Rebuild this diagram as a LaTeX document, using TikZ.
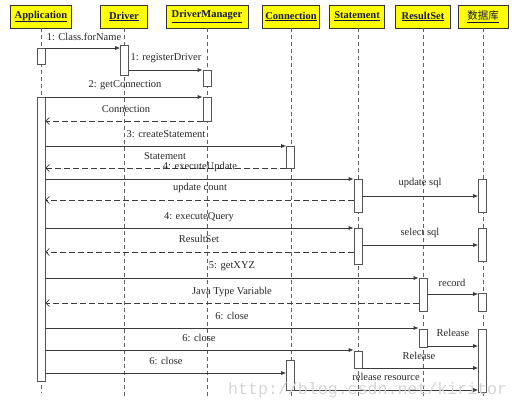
\documentclass[tikz,border=0pt]{standalone}
\usepackage{fontspec}
\setmainfont{Liberation Serif}
\newfontfamily\cjk{Noto Sans CJK SC}
\newfontfamily\wmfont{Liberation Mono}
\usetikzlibrary{arrows.meta}
\definecolor{hdrfill}{HTML}{FFFF00}
\definecolor{hdrtext}{HTML}{14144A}
\definecolor{linec}{HTML}{3A3A3A}
\definecolor{barc}{HTML}{555555}
\definecolor{lifec}{HTML}{606060}
\definecolor{wmc}{HTML}{D4D4D4}
\tikzset{
  hdr/.style={draw=black!80, fill=hdrfill, line width=0.6pt, minimum height=23pt, inner sep=0pt,
    font=\fontsize{10.5}{12}\selectfont\bfseries, text=hdrtext},
  life/.style={draw=lifec, line width=0.6pt, dash pattern=on 4pt off 3pt},
  actbar/.style={draw=barc, fill=white, line width=0.6pt, minimum width=8pt, inner sep=0pt},
  msg/.style={draw=linec, line width=0.7pt, -{Latex[length=5pt,width=4pt]}},
  ret/.style={draw=linec, line width=0.7pt, dash pattern=on 6pt off 3pt, -{Straight Barb[length=3.5pt,width=7pt]}},
  lbl/.style={font=\fontsize{10.5}{12}\selectfont, text=black!85, inner sep=0pt}
}
\begin{document}
\begin{tikzpicture}[x=1pt,y=-1pt]
\useasboundingbox (0,0) rectangle (521,410);
% headers
\node[hdr, minimum width=61pt] (happ) at (41,16.5) {\underline{Application}};
\node[hdr, minimum width=47pt] (hdrv) at (124,16.5) {\underline{Driver}};
\node[hdr, minimum width=82pt] (hdm) at (207,16.5) {\underline{DriverManager}};
\node[hdr, minimum width=57pt] (hcon) at (291,16.5) {\underline{Connection}};
\node[hdr, minimum width=55pt] (hst) at (357,16.5) {\underline{Statement}};
\node[hdr, minimum width=55pt] (hrs) at (423,16.5) {\underline{ResultSet}};
\node[hdr, minimum width=50pt, font=\fontsize{10.5}{12}\selectfont\cjk] (hdb) at (483,16.5) {\underline{数据库}};
% lifelines
\coordinate (eapp) at (41,393);
\coordinate (edrv) at (124,396);
\coordinate (edm) at (207,396);
\coordinate (econ) at (291,396);
\coordinate (est) at (358,396);
\coordinate (ers) at (423,396);
\coordinate (edb) at (483,396);
\draw[life] (happ.south) -- (eapp);
\draw[life] (hdrv.south) -- (edrv);
\draw[life] (hdm.south) -- (edm);
\draw[life] (hcon.south) -- (econ);
\draw[life] (hst.south -| est) -- (est);
\draw[life] (hrs.south) -- (ers);
\draw[life] (hdb.south) -- (edb);
% activation bars
\node[actbar, minimum height=16pt] (a1) at (41,56) {};
\node[actbar, minimum height=284pt] (a2) at (41,239) {};
\node[actbar, minimum height=30pt] (d1) at (124.5,60) {};
\node[actbar, minimum height=16pt] (m1) at (207,78) {};
\node[actbar, minimum height=24pt] (m2) at (207,109) {};
\node[actbar, minimum height=22pt] (c1) at (290.5,157) {};
\node[actbar, minimum height=30pt] (c2) at (290.5,375) {};
\node[actbar, minimum height=33pt] (s1) at (358,195.5) {};
\node[actbar, minimum height=36pt] (s2) at (358,246) {};
\node[actbar, minimum height=17pt] (s3) at (358,359.5) {};
\node[actbar, minimum height=33pt] (r1) at (423,294.5) {};
\node[actbar, minimum height=18pt] (r2) at (423,338) {};
\node[actbar, minimum height=33pt] (b1) at (482.5,195.5) {};
\node[actbar, minimum height=33pt] (b2) at (482.5,244.5) {};
\node[actbar, minimum height=18pt] (b3) at (482.5,302) {};
\node[actbar, minimum height=63pt] (b4) at (482.5,360.5) {};
% messages
\draw[msg] (a1.east |- 0,48) -- (d1.west |- 0,48);
\draw[msg] (d1.east |- 0,70) -- (m1.west |- 0,70);
\draw[msg] (a2.east |- 0,97) -- (m2.west |- 0,97);
\draw[ret] (m2.west |- 0,121) -- (a2.east |- 0,121);
\draw[msg] (a2.east |- 0,146) -- (c1.west |- 0,146);
\draw[ret] (c1.west |- 0,168) -- (a2.east |- 0,168);
\draw[msg] (a2.east |- 0,179) -- (s1.west |- 0,179);
\draw[ret] (s1.west |- 0,200) -- (a2.east |- 0,200);
\draw[msg] (s1.east |- 0,196) -- (b1.west |- 0,196);
\draw[msg] (a2.east |- 0,228) -- (s2.west |- 0,228);
\draw[ret] (s2.west |- 0,252) -- (a2.east |- 0,252);
\draw[msg] (s2.east |- 0,245) -- (b2.west |- 0,245);
\draw[msg] (a2.east |- 0,278) -- (r1.west |- 0,278);
\draw[ret] (r1.west |- 0,303) -- (a2.east |- 0,303);
\draw[msg] (r1.east |- 0,294) -- (b3.west |- 0,294);
\draw[msg] (a2.east |- 0,328) -- (r2.west |- 0,328);
\draw[msg] (r2.east |- 0,346) -- (b4.west |- 0,346);
\draw[msg] (a2.east |- 0,350) -- (s3.west |- 0,350);
\draw[msg] (s3.east |- 0,368) -- (b4.west |- 0,368);
\draw[msg] (a2.east |- 0,373) -- (c2.west |- 0,373);
\draw[msg] (c2.east |- 0,390) -- (b4.west |- 0,390);
% labels
\node[lbl] (l1) at (84,37) {1: Class.forName};
\node[lbl] (l2) at (166,58) {1: registerDriver};
\node[lbl] (l3) at (125,85) {2: getConnection};
\node[lbl] (l4) at (126,109) {Connection};
\node[lbl] (l5) at (166,134) {3: createStatement};
\node[lbl] (l6) at (165,156) {Statement};
\node[lbl] (l7) at (200,167) {4: executeUpdate};
\node[lbl] (l8) at (200,188) {update count};
\node[lbl] (l9) at (420,183) {update sql};
\node[lbl] (l10) at (199,217) {4: executeQuery};
\node[lbl] (l11) at (199,239) {ResultSet};
\node[lbl] (l12) at (420,233) {select sql};
\node[lbl] (l13) at (232,266) {5: getXYZ};
\node[lbl] (l14) at (232,292) {Java Type Variable};
\node[lbl] (l15) at (452,283) {record};
\node[lbl] (l16) at (232,316) {6: close};
\node[lbl] (l17) at (453,333) {Release};
\node[lbl] (l18) at (199,338) {6: close};
\node[lbl] (l19) at (419,356) {Release};
\node[lbl] (l20) at (166,361) {6: close};
\node[lbl] (l21) at (386,377) {release resource};
% watermark
\node[font=\fontsize{16.6}{18}\selectfont\wmfont, text=wmc, inner sep=0pt, anchor=west] (wm) at (228,390.5) {http://blog.csdn.net/kiritor};
\end{tikzpicture}
\end{document}
